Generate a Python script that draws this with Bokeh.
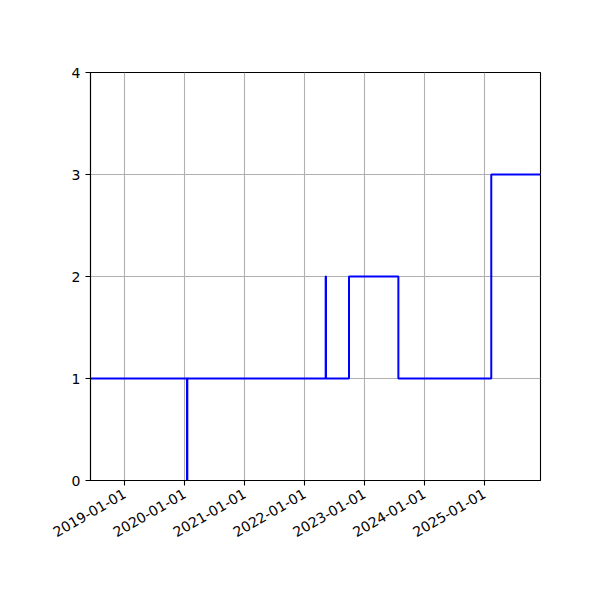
import math
from datetime import datetime
from bokeh.plotting import figure
from bokeh.models import Range1d, FixedTicker, DatetimeTickFormatter
from bokeh.embed import file_html
from bokeh.resources import INLINE

# step data (value holds until the next date)
dates = ["2018-06-06", "2020-01-15", "2020-01-17", "2022-05-09", "2022-05-11",
         "2022-09-28", "2023-07-26", "2025-02-11", "2025-12-08"]
counts = [1, 0, 1, 2, 1, 2, 1, 3, 3]
tick_dates = ["2019-01-01", "2020-01-01", "2021-01-01", "2022-01-01",
              "2023-01-01", "2024-01-01", "2025-01-01"]
y_ticks = [0, 1, 2, 3, 4]

xs = [datetime.strptime(d, "%Y-%m-%d") for d in dates]
tx = [datetime.strptime(d, "%Y-%m-%d") for d in tick_dates]
epoch = datetime(1970, 1, 1)
tick_ms = [(t - epoch).total_seconds() * 1000 for t in tx]

p = figure(width=584, height=584, x_axis_type="datetime",
           output_backend="svg", toolbar_location=None,
           min_border_left=90, min_border_right=44,
           min_border_top=72, min_border_bottom=104)
p.x_range = Range1d(xs[0], xs[-1])
p.y_range = Range1d(0, 4)

p.step(xs, counts, mode="after", line_color="#0000ff", line_width=2)

p.xaxis.ticker = FixedTicker(ticks=tick_ms)
fmt = "%Y-%m-%d"
p.xaxis.formatter = DatetimeTickFormatter(years=fmt, months=fmt, days=fmt,
                                          hours=fmt, minutes=fmt, seconds=fmt)
p.xaxis.major_label_orientation = math.pi / 6
p.xaxis.major_label_standoff = 7
p.yaxis.ticker = FixedTicker(ticks=y_ticks)

for ax in [p.xaxis[0], p.yaxis[0]]:
    ax.axis_line_color = "black"
    ax.axis_line_width = 1.1
    ax.major_tick_line_color = "black"
    ax.major_tick_line_width = 1.1
    ax.major_tick_out = 5
    ax.major_tick_in = 0
    ax.minor_tick_line_color = None
    ax.major_label_text_font = "DejaVu Sans"
    ax.major_label_text_font_size = "14px"
    ax.major_label_text_color = "black"

p.grid.grid_line_color = "#b0b0b0"
p.grid.grid_line_width = 1.1
p.outline_line_color = "black"
p.outline_line_width = 1.1
p.outline_line_alpha = 1
p.background_fill_color = "white"
p.border_fill_color = "white"

open("out.html", "w").write(file_html(p, INLINE))
